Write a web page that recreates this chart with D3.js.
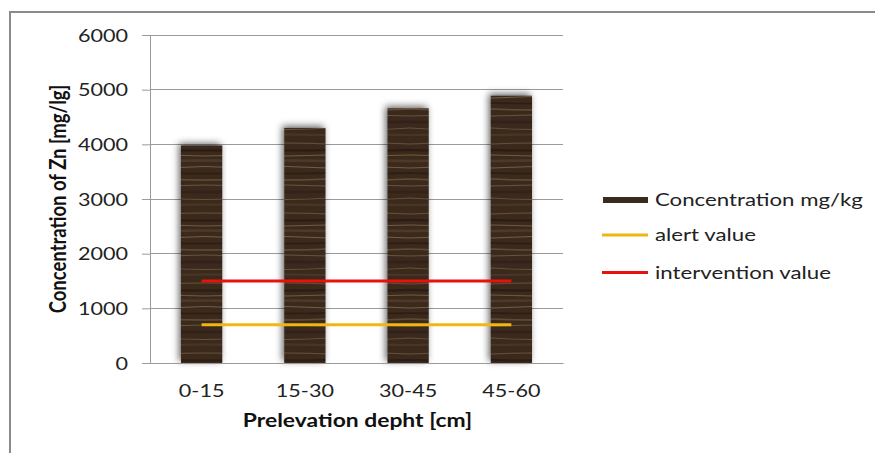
<!DOCTYPE html>
<html>
<head>
<meta charset="utf-8">
<script src="https://cdn.jsdelivr.net/npm/d3@7"></script>
<style>
  html, body { margin: 0; padding: 0; background: #fff; }
  svg { display: block; }
  text { font-family: Lato, "Open Sans", sans-serif; fill: #222; }
</style>
</head>
<body>
<svg id="chart" width="875" height="453"></svg>
<script>
// Zinc concentration by sampling depth, with alert / intervention thresholds
const categories = ["0-15", "15-30", "30-45", "45-60"];
const concentration = [3980, 4300, 4660, 4890];
const alertValues = [700, 700, 700, 700];
const interventionValues = [1500, 1500, 1500, 1500];
const yTicks = [0, 1000, 2000, 3000, 4000, 5000, 6000];
const legendLabels = ["Concentration mg/kg", "alert value", "intervention value"];

const W = 875, H = 453;
const plot = { left: 150, right: 563, top: 35, bottom: 363 };
const stretch = 1.27;           // horizontal widening of all text
const colors = { bar: "#3b2a1e", alert: "#f2b613", intervention: "#e8120c", grid: "#9a9a9a" };

const svg = d3.select("#chart");
const defs = svg.append("defs");

// wood grain fill for the bars
const wood = defs.append("pattern")
  .attr("id", "wood").attr("patternUnits", "userSpaceOnUse")
  .attr("width", 82).attr("height", 70);
wood.append("rect").attr("width", 82).attr("height", 70).attr("fill", colors.bar);
const grain = [
  { y: 4, c: "#6a543d", w: 1.2, o: 0.9, b: -2 }, { y: 10, c: "#2a1d13", w: 2.5, o: 0.9, b: 1 },
  { y: 15, c: "#7d6549", w: 1, o: 0.8, b: 2 }, { y: 21, c: "#4f3b2a", w: 2.5, o: 0.9, b: -1 },
  { y: 28, c: "#8a7155", w: 1, o: 0.7, b: -3 }, { y: 33, c: "#2b1e14", w: 2, o: 0.9, b: 1 },
  { y: 39, c: "#64503a", w: 1.5, o: 0.9, b: 2 }, { y: 46, c: "#8e7659", w: 0.9, o: 0.6, b: -2 },
  { y: 52, c: "#30231a", w: 2.5, o: 0.9, b: 0 }, { y: 58, c: "#735b42", w: 1.2, o: 0.8, b: 3 },
  { y: 65, c: "#4a3828", w: 2, o: 0.9, b: -1 }
];
grain.forEach(g => {
  wood.append("path")
    .attr("d", `M0,${g.y} Q41,${g.y + g.b} 82,${g.y}`)
    .attr("fill", "none").attr("stroke", g.c)
    .attr("stroke-width", g.w).attr("opacity", g.o);
});

const shadow = defs.append("filter").attr("id", "shadow")
  .attr("x", "-40%").attr("y", "-10%").attr("width", "180%").attr("height", "120%");
shadow.append("feDropShadow")
  .attr("dx", -2).attr("dy", -2).attr("stdDeviation", 3.5)
  .attr("flood-color", "#000").attr("flood-opacity", 0.6);

// outer frame
svg.append("rect")
  .attr("x", 10).attr("y", 12).attr("width", W + 20).attr("height", H + 20)
  .attr("fill", "none").attr("stroke", "#8a8a8a").attr("stroke-width", 2);

const x = d3.scaleBand().domain(categories)
  .range([plot.left, plot.right]).paddingInner(0.6).paddingOuter(0.3);
const y = d3.scaleLinear().domain([0, 6000]).range([plot.bottom, plot.top]);

// gridlines
svg.append("g").selectAll("line").data(yTicks.filter(t => t > 0)).join("line")
  .attr("x1", plot.left).attr("x2", plot.right)
  .attr("y1", d => y(d)).attr("y2", d => y(d))
  .attr("stroke", colors.grid).attr("stroke-width", 1).attr("shape-rendering", "crispEdges");

// y axis
const yAxis = svg.append("g")
  .attr("transform", `translate(${plot.left},0)`)
  .call(d3.axisLeft(y).tickValues(yTicks).tickFormat(d3.format("d")).tickSize(8).tickPadding(0));
yAxis.select(".domain").attr("stroke", colors.grid);
yAxis.selectAll(".tick line").attr("stroke", colors.grid);
yAxis.selectAll(".tick text")
  .attr("x", 0).attr("dy", "0.36em")
  .attr("transform", `translate(-22,0) scale(${stretch},1)`)
  .style("font-size", "17px").style("fill", "#222");

// bars
svg.append("g").selectAll("rect").data(concentration).join("rect")
  .attr("x", (d, i) => x(categories[i]))
  .attr("y", d => y(d))
  .attr("width", x.bandwidth())
  .attr("height", d => y(0) - y(d))
  .attr("fill", "url(#wood)")
  .attr("filter", "url(#shadow)");

// x axis
const xAxis = svg.append("g")
  .attr("transform", `translate(0,${plot.bottom})`)
  .call(d3.axisBottom(x).tickSize(0).tickPadding(0));
xAxis.select(".domain").attr("stroke", colors.grid);
xAxis.selectAll(".tick text")
  .attr("y", 0).attr("dy", 0)
  .attr("transform", `translate(0,34) scale(${stretch},1)`)
  .style("font-size", "17px").style("fill", "#222");

// threshold lines
const line = d3.line().x((d, i) => x(categories[i]) + x.bandwidth() / 2).y(d => y(d));
svg.append("path").datum(interventionValues).attr("d", line)
  .attr("fill", "none").attr("stroke", colors.intervention).attr("stroke-width", 3);
svg.append("path").datum(alertValues).attr("d", line)
  .attr("fill", "none").attr("stroke", colors.alert).attr("stroke-width", 3);

// axis titles
svg.append("text")
  .attr("transform", `translate(${(plot.left + plot.right) / 2 + 1},427) scale(${stretch},1)`)
  .attr("text-anchor", "middle")
  .style("font-size", "18px").style("font-weight", "bold").style("fill", "#111")
  .text("Prelevation depht [cm]");

svg.append("text")
  .attr("transform", `translate(66,${(plot.top + plot.bottom) / 2}) scale(${stretch},1) rotate(-90)`)
  .attr("text-anchor", "middle")
  .style("font-size", "18.5px").style("font-weight", "bold").style("fill", "#111")
  .text("Concentration of Zn [mg/lg]");

// legend
const legendY = [200, 235, 272.5];
const legend = svg.append("g");
legend.append("rect")
  .attr("x", 603).attr("y", legendY[0] - 3).attr("width", 45).attr("height", 6)
  .attr("fill", colors.bar);
legend.append("line")
  .attr("x1", 602).attr("x2", 648).attr("y1", legendY[1]).attr("y2", legendY[1])
  .attr("stroke", colors.alert).attr("stroke-width", 3);
legend.append("line")
  .attr("x1", 602).attr("x2", 648).attr("y1", legendY[2]).attr("y2", legendY[2])
  .attr("stroke", colors.intervention).attr("stroke-width", 3);
legend.selectAll("text").data(legendLabels).join("text")
  .attr("transform", (d, i) => `translate(655,${legendY[i]}) scale(${stretch},1)`)
  .attr("dy", "0.35em")
  .style("font-size", "17.5px").style("fill", "#222")
  .text(d => d);
</script>
</body>
</html>
